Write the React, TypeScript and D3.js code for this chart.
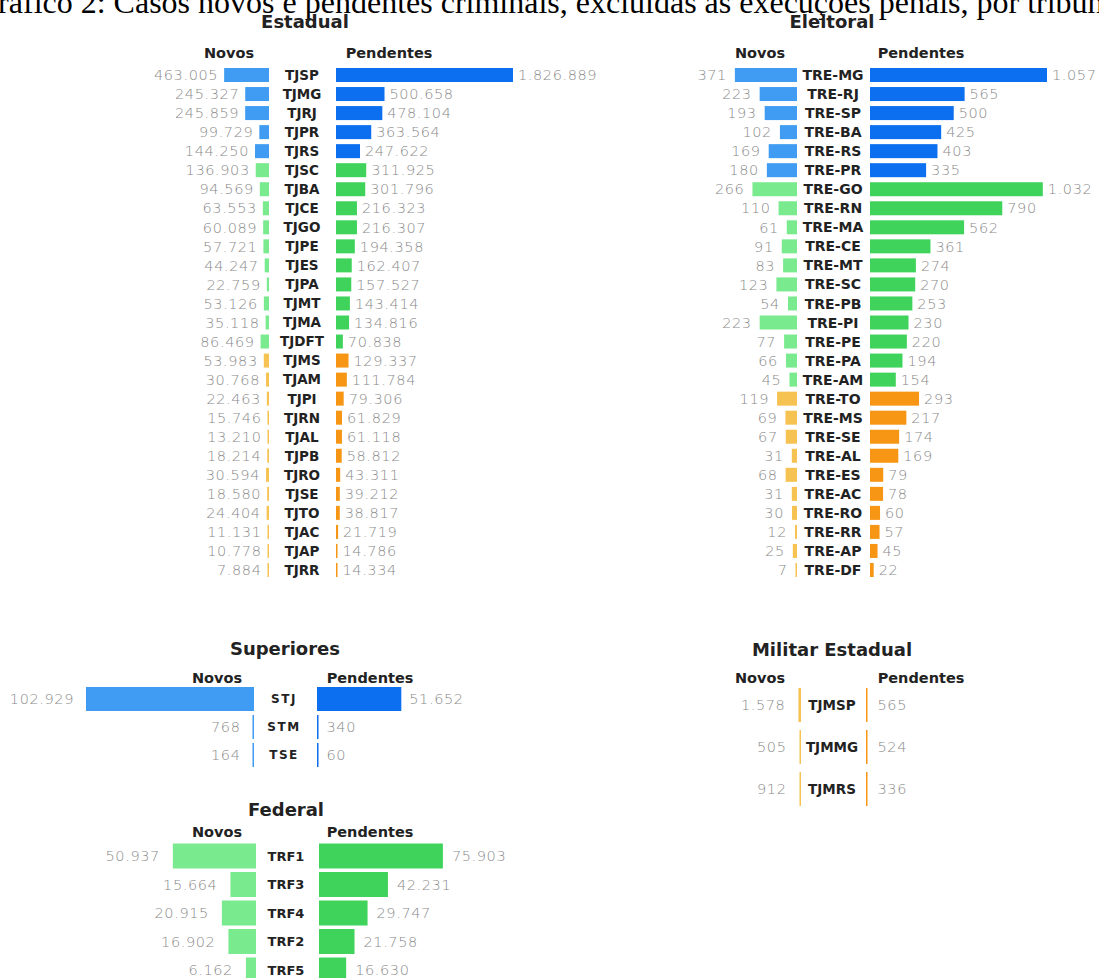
import React from "react";
import * as d3 from "d3";

type Porte = "grande" | "medio" | "pequeno";

// Justiça Estadual
const estadualTribunais = [
  "TJSP", "TJMG", "TJRJ", "TJPR", "TJRS",
  "TJSC", "TJBA", "TJCE", "TJGO", "TJPE", "TJES", "TJPA", "TJMT", "TJMA", "TJDFT",
  "TJMS", "TJAM", "TJPI", "TJRN", "TJAL", "TJPB", "TJRO", "TJSE", "TJTO", "TJAC", "TJAP", "TJRR",
];
const estadualNovos = [
  463005, 245327, 245859, 99729, 144250,
  136903, 94569, 63553, 60089, 57721, 44247, 22759, 53126, 35118, 86469,
  53983, 30768, 22463, 15746, 13210, 18214, 30594, 18580, 24404, 11131, 10778, 7884,
];
const estadualPendentes = [
  1826889, 500658, 478104, 363564, 247622,
  311925, 301796, 216323, 216307, 194358, 162407, 157527, 143414, 134816, 70838,
  129337, 111784, 79306, 61829, 61118, 58812, 43311, 39212, 38817, 21719, 14786, 14334,
];
const estadualPorte: Porte[] = [
  "grande", "grande", "grande", "grande", "grande",
  "medio", "medio", "medio", "medio", "medio", "medio", "medio", "medio", "medio", "medio",
  "pequeno", "pequeno", "pequeno", "pequeno", "pequeno", "pequeno", "pequeno", "pequeno", "pequeno", "pequeno", "pequeno", "pequeno",
];

// Justiça Eleitoral
const eleitoralTribunais = [
  "TRE-MG", "TRE-RJ", "TRE-SP", "TRE-BA", "TRE-RS", "TRE-PR",
  "TRE-GO", "TRE-RN", "TRE-MA", "TRE-CE", "TRE-MT", "TRE-SC", "TRE-PB", "TRE-PI", "TRE-PE", "TRE-PA", "TRE-AM",
  "TRE-TO", "TRE-MS", "TRE-SE", "TRE-AL", "TRE-ES", "TRE-AC", "TRE-RO", "TRE-RR", "TRE-AP", "TRE-DF",
];
const eleitoralNovos = [
  371, 223, 193, 102, 169, 180,
  266, 110, 61, 91, 83, 123, 54, 223, 77, 66, 45,
  119, 69, 67, 31, 68, 31, 30, 12, 25, 7,
];
const eleitoralPendentes = [
  1057, 565, 500, 425, 403, 335,
  1032, 790, 562, 361, 274, 270, 253, 230, 220, 194, 154,
  293, 217, 174, 169, 79, 78, 60, 57, 45, 22,
];
const eleitoralPorte: Porte[] = [
  "grande", "grande", "grande", "grande", "grande", "grande",
  "medio", "medio", "medio", "medio", "medio", "medio", "medio", "medio", "medio", "medio", "medio",
  "pequeno", "pequeno", "pequeno", "pequeno", "pequeno", "pequeno", "pequeno", "pequeno", "pequeno", "pequeno",
];

// Tribunais Superiores
const superioresTribunais = ["STJ", "STM", "TSE"];
const superioresNovos = [102929, 768, 164];
const superioresPendentes = [51652, 340, 60];
const superioresPorte: Porte[] = ["grande", "grande", "grande"];

// Justiça Federal
const federalTribunais = ["TRF1", "TRF3", "TRF4", "TRF2", "TRF5"];
const federalNovos = [50937, 15664, 20915, 16902, 6162];
const federalPendentes = [75903, 42231, 29747, 21758, 16630];
const federalPorte: Porte[] = ["medio", "medio", "medio", "medio", "medio"];

// Justiça Militar Estadual
const militarTribunais = ["TJMSP", "TJMMG", "TJMRS"];
const militarNovos = [1578, 505, 912];
const militarPendentes = [565, 524, 336];
const militarPorte: Porte[] = ["pequeno", "pequeno", "pequeno"];

const cores: Record<Porte, { novos: string; pend: string }> = {
  grande: { novos: "#3f9cf2", pend: "#0b6ff0" },
  medio: { novos: "#7aea8e", pend: "#3fd35b" },
  pequeno: { novos: "#f6c352", pend: "#f69614" },
};

const ptBR = d3.formatLocale({
  decimal: ",",
  thousands: ".",
  grouping: [3],
  currency: ["R$", ""],
});
const fmt = ptBR.format(",d");

const valueFont = "'DejaVu Sans', sans-serif";
const boldFont = "'DejaVu Sans', sans-serif";

// barras muito finas continuam visíveis (como no original)
const minBar = 1.5;

interface PanelProps {
  title: string;
  titleX: number;
  titleY: number;
  novosHeaderX: number;
  pendHeaderX: number;
  headerY: number;
  tribunais: string[];
  novos: number[];
  pendentes: number[];
  porte: Porte[];
  labelX: number;
  novosRight: number;
  pendLeft: number;
  y0: number;
  y1: number;
  barH: number;
  x: d3.ScaleLinear<number, number>;
  labelSize: number;
  labelSpacing?: number;
  gapNovos: number;
  gapPend: number;
}

const Panel: React.FC<PanelProps> = (p) => {
  const y = d3.scalePoint<string>().domain(p.tribunais).range([p.y0, p.y1]);
  return (
    <g>
      <text
        x={p.titleX}
        y={p.titleY}
        textAnchor="middle"
        dy="0.35em"
        fontFamily={boldFont}
        fontWeight={700}
        fontSize={18}
        fill="#222"
      >
        {p.title}
      </text>
      <text x={p.novosHeaderX} y={p.headerY} dy="0.35em" textAnchor="middle" fontFamily={boldFont} fontWeight={700} fontSize={14.5} fill="#222">
        Novos
      </text>
      <text x={p.pendHeaderX} y={p.headerY} dy="0.35em" textAnchor="middle" fontFamily={boldFont} fontWeight={700} fontSize={14.5} fill="#222">
        Pendentes
      </text>
      {p.tribunais.map((t, i) => {
        const cy = y(t) as number;
        const wN = Math.max(p.x(p.novos[i]), minBar);
        const wP = Math.max(p.x(p.pendentes[i]), minBar);
        const c = cores[p.porte[i]];
        return (
          <g key={t}>
            <rect x={p.novosRight - wN} y={cy - p.barH / 2} width={wN} height={p.barH} fill={c.novos} />
            <rect x={p.pendLeft} y={cy - p.barH / 2} width={wP} height={p.barH} fill={c.pend} />
            <text
              x={p.labelX}
              y={cy}
              dy="0.36em"
              textAnchor="middle"
              fontFamily={boldFont}
              fontWeight={700}
              fontSize={p.labelSize}
              letterSpacing={p.labelSpacing ?? 0}
              fill="#222"
            >
              {t}
            </text>
            <text
              x={p.novosRight - wN - p.gapNovos}
              y={cy}
              dy="0.36em"
              textAnchor="end"
              fontFamily={valueFont}
              fontWeight={300}
              fontSize={14.5}
              letterSpacing={0.6}
              fill="#8a8a8a"
            >
              {fmt(p.novos[i])}
            </text>
            <text
              x={p.pendLeft + wP + p.gapPend}
              y={cy}
              dy="0.36em"
              textAnchor="start"
              fontFamily={valueFont}
              fontWeight={300}
              fontSize={14.5}
              letterSpacing={0.6}
              fill="#8a8a8a"
            >
              {fmt(p.pendentes[i])}
            </text>
          </g>
        );
      })}
    </g>
  );
};

const App: React.FC = () => {
  const width = 1099;
  const height = 978;

  const xEstadual = d3
    .scaleLinear()
    .domain([0, d3.max(estadualPendentes) as number])
    .range([0, 177]);
  const xEleitoral = d3
    .scaleLinear()
    .domain([0, d3.max(eleitoralPendentes) as number])
    .range([0, 177]);
  const xOutros = d3
    .scaleLinear()
    .domain([0, d3.max(superioresNovos) as number])
    .range([0, 168]);

  return (
    <div style={{ position: "absolute", left: 0, top: 0, width, height, background: "#fff", overflow: "hidden" }}>
      <svg width={width} height={height} style={{ display: "block" }}>
        <text x={-25} y={13} fontFamily="'Liberation Serif', 'Times New Roman', serif" fontSize={32} fill="#000">
          Gráfico 2: Casos novos e pendentes criminais, excluídas as execuções penais, por tribunal
        </text>

        <Panel
          title="Estadual"
          titleX={305}
          titleY={22}
          novosHeaderX={229}
          pendHeaderX={389}
          headerY={53}
          tribunais={estadualTribunais}
          novos={estadualNovos}
          pendentes={estadualPendentes}
          porte={estadualPorte}
          labelX={302}
          novosRight={269}
          pendLeft={336}
          y0={75}
          y1={570}
          barH={14}
          x={xEstadual}
          labelSize={13.5}
          gapNovos={6}
          gapPend={5}
        />

        <Panel
          title="Eleitoral"
          titleX={832}
          titleY={22}
          novosHeaderX={760}
          pendHeaderX={921}
          headerY={53}
          tribunais={eleitoralTribunais}
          novos={eleitoralNovos}
          pendentes={eleitoralPendentes}
          porte={eleitoralPorte}
          labelX={833}
          novosRight={797}
          pendLeft={870}
          y0={75}
          y1={570}
          barH={14}
          x={xEleitoral}
          labelSize={14}
          gapNovos={8}
          gapPend={5}
        />

        <Panel
          title="Superiores"
          titleX={285}
          titleY={649}
          novosHeaderX={217}
          pendHeaderX={370}
          headerY={678}
          tribunais={superioresTribunais}
          novos={superioresNovos}
          pendentes={superioresPendentes}
          porte={superioresPorte}
          labelX={284}
          novosRight={254}
          pendLeft={317}
          y0={699}
          y1={755}
          barH={24}
          x={xOutros}
          labelSize={12}
          labelSpacing={1.5}
          gapNovos={12}
          gapPend={8}
        />

        <Panel
          title="Federal"
          titleX={286}
          titleY={810}
          novosHeaderX={217}
          pendHeaderX={370}
          headerY={832}
          tribunais={federalTribunais}
          novos={federalNovos}
          pendentes={federalPendentes}
          porte={federalPorte}
          labelX={286}
          novosRight={256}
          pendLeft={319}
          y0={856}
          y1={970}
          barH={25}
          x={xOutros}
          labelSize={13}
          gapNovos={13}
          gapPend={9}
        />

        <Panel
          title="Militar Estadual"
          titleX={832}
          titleY={650}
          novosHeaderX={760}
          pendHeaderX={921}
          headerY={678}
          tribunais={militarTribunais}
          novos={militarNovos}
          pendentes={militarPendentes}
          porte={militarPorte}
          labelX={832}
          novosRight={801}
          pendLeft={866}
          y0={705}
          y1={789}
          barH={34}
          x={xOutros}
          labelSize={13.5}
          gapNovos={13}
          gapPend={10}
        />
      </svg>
    </div>
  );
};

export default App;
